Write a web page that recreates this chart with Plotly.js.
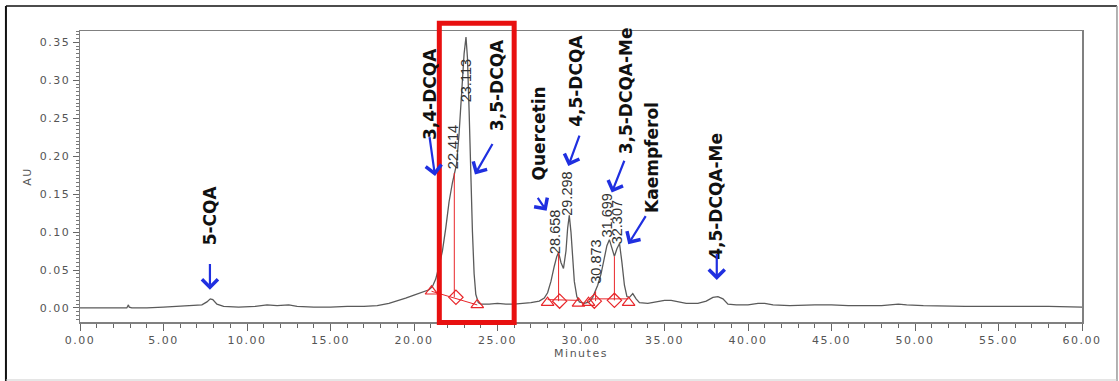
<!DOCTYPE html>
<html>
<head>
<meta charset="utf-8">
<script src="https://cdn.plot.ly/plotly-3.0.1.min.js"></script>
<style>
html,body{margin:0;padding:0;background:#fff;}
#chart{width:1119px;height:381px;}
.xtick text,.ytick text,.g-xtitle text,.g-ytitle text{letter-spacing:1.5px;}
</style>
</head>
<body>
<div id="chart"></div>
<script>
// ---- Chromatogram (minutes, AU) ----
const time = [0.0,1.0,2.0,2.8,2.9,2.95,3.1,4.0,5.0,6.0,6.8,7.3,7.6,7.8,7.95,8.2,8.6,9.5,10.5,11.2,11.8,12.5,13.0,14.0,15.0,16.0,17.0,17.8,18.5,19.0,19.5,20.0,20.5,20.9,21.1,21.3,21.5,21.7,21.9,22.1,22.3,22.414,22.55,22.7,22.85,23.0,23.113,23.2,23.3,23.4,23.5,23.6,23.7,23.85,24.0,24.5,25.0,25.5,26.0,26.5,27.0,27.5,27.8,28.0,28.2,28.4,28.55,28.658,28.8,28.95,29.1,29.2,29.298,29.4,29.5,29.6,29.75,29.9,30.2,30.5,30.7,30.873,31.0,31.2,31.4,31.55,31.699,31.85,32.0,32.15,32.307,32.45,32.6,32.75,32.9,33.1,33.3,33.5,34.0,34.5,35.0,35.4,35.8,36.3,37.0,37.5,37.9,38.2,38.5,38.8,39.3,40.0,40.6,41.0,41.5,42.5,44.0,45.0,46.0,48.0,49.0,49.5,50.5,53.0,56.0,58.0,60.0];
const absorbance = [0.000,0.000,0.000,0.000,0.004,0.001,0.000,0.000,0.001,0.002,0.003,0.004,0.008,0.012,0.011,0.005,0.002,0.001,0.002,0.004,0.003,0.004,0.002,0.001,0.001,0.002,0.002,0.003,0.006,0.009,0.013,0.017,0.021,0.024,0.028,0.038,0.055,0.075,0.105,0.140,0.165,0.178,0.190,0.230,0.290,0.335,0.357,0.330,0.260,0.175,0.100,0.045,0.018,0.007,0.005,0.005,0.006,0.005,0.005,0.006,0.007,0.009,0.013,0.020,0.035,0.055,0.068,0.073,0.060,0.052,0.075,0.105,0.122,0.100,0.065,0.035,0.015,0.008,0.006,0.008,0.014,0.022,0.030,0.045,0.065,0.082,0.090,0.078,0.068,0.078,0.085,0.060,0.030,0.015,0.014,0.019,0.012,0.007,0.006,0.008,0.010,0.010,0.008,0.006,0.006,0.009,0.014,0.015,0.012,0.005,0.004,0.004,0.006,0.006,0.004,0.003,0.004,0.004,0.003,0.003,0.005,0.004,0.003,0.002,0.002,0.002,0.001];

// ---- Integration marks ----
const startEndT = [21.05, 23.79, 28.0, 29.85, 30.45, 32.85];
const startEndV = [0.022, 0.004, 0.007, 0.006, 0.007, 0.007];
const valleyT = [22.51, 28.72, 30.8, 32.0];
const valleyV = [0.014, 0.009, 0.009, 0.010];
const dropT = [22.414, 28.658, 30.873, 32.0];
const dropTop = [0.178, 0.073, 0.022, 0.068];
const dropBottom = [0.014, 0.009, 0.009, 0.010];
const baseT = [[21.05, 23.79], [28.0, 28.72, 29.85], [30.45, 30.8, 32.0, 32.85]];
const baseV = [[0.022, 0.004], [0.011, 0.011, 0.010], [0.011, 0.012, 0.012, 0.012]];

// ---- Retention-time labels ----
const rtLabels = ['22.414', '23.113', '28.658', '29.298', '30.873', '31.699', '32.307'];

// ---- Compound labels ----
const compounds = ['5-CQA', '3,4-DCQA', '3,5-DCQA', 'Quercetin', '4,5-DCQA', '3,5-DCQA-Me', 'Kaempferol', '4,5-DCQA-Me'];

// ---- Tick labels ----
const xTickVals = [0,5,10,15,20,25,30,35,40,45,50,55,60];
const yTickVals = [0,0.05,0.10,0.15,0.20,0.25,0.30,0.35];

// ---- placement (data units) ----
const rtPos = [[22.34,0.212],[23.11,0.300],[28.44,0.100],[29.14,0.150],[30.90,0.061],[31.56,0.122],[32.16,0.113]];
const compPos = [[7.78,0.122],[20.96,0.282],[24.94,0.293],[27.49,0.230],[29.73,0.300],[32.72,0.286],[34.25,0.199],[38.11,0.147]];
// arrows: [headX, headY, tailX, tailY]
const arrowPos = [[7.78,0.024,7.78,0.060],[21.26,0.174,20.92,0.227],[23.65,0.176,24.75,0.218],[27.94,0.128,27.35,0.147],[29.24,0.187,29.94,0.229],[31.84,0.152,32.63,0.196],[32.83,0.084,33.93,0.123],[38.13,0.037,38.13,0.073]];

const red = '#e8262a';
const traces = [{
  x: time, y: absorbance, type: 'scatter', mode: 'lines',
  line: {color: '#5a5a5a', width: 1.3}, hoverinfo: 'skip'
}];
baseT.forEach((bt, i) => traces.push({
  x: bt, y: baseV[i], type: 'scatter', mode: 'lines',
  line: {color: red, width: 1}, hoverinfo: 'skip'
}));
dropT.forEach((t, i) => traces.push({
  x: [t, t], y: [dropTop[i], dropBottom[i]], type: 'scatter', mode: 'lines',
  line: {color: red, width: 1}, hoverinfo: 'skip'
}));
traces.push({x: startEndT, y: startEndV, type: 'scatter', mode: 'markers',
  marker: {symbol: 'triangle-up-open', size: 11, color: red, line: {width: 1.2}}, hoverinfo: 'skip'});
traces.push({x: valleyT, y: valleyV, type: 'scatter', mode: 'markers',
  marker: {symbol: 'diamond-open', size: 11, color: red, line: {width: 1.2}}, hoverinfo: 'skip'});

const annotations = [];
rtLabels.forEach((s, i) => annotations.push({
  x: rtPos[i][0], y: rtPos[i][1], xref: 'x', yref: 'y', text: s, showarrow: false,
  textangle: -90, xanchor: 'center', yanchor: 'middle',
  font: {family: 'Liberation Sans Narrow, Liberation Sans, Arial', size: 14.5, color: '#333'}
}));
compounds.forEach((s, i) => annotations.push({
  x: compPos[i][0], y: compPos[i][1], xref: 'x', yref: 'y', text: '<b>' + s + '</b>', showarrow: false,
  textangle: -90, xanchor: 'center', yanchor: 'middle',
  font: {family: 'DejaVu Sans', size: 17, color: '#111'}
}));
arrowPos.forEach(a => annotations.push({
  x: a[0], y: a[1], ax: a[2], ay: a[3], xref: 'x', yref: 'y', axref: 'x', ayref: 'y',
  text: '', showarrow: true, arrowhead: 4, arrowsize: 1.4, arrowwidth: 2.2, arrowcolor: '#1f2fe0',
  standoff: 0, startstandoff: 0
}));

const shapes = [
  // outer frame
  {type: 'line', xref: 'paper', yref: 'paper', x0: -0.0739, x1: 1.0349, y0: 1.0859, y1: 1.0859, line: {color: '#111', width: 1.5}},
  {type: 'line', xref: 'paper', yref: 'paper', x0: -0.0739, x1: -0.0739, y0: 1.0859, y1: -0.205, line: {color: '#111', width: 2}},
  {type: 'line', xref: 'paper', yref: 'paper', x0: 1.0349, x1: 1.0349, y0: 1.0859, y1: -0.205, line: {color: '#999', width: 1.5}},
  {type: 'line', xref: 'paper', yref: 'paper', x0: -0.0739, x1: 1.0349, y0: -0.1993, y1: -0.1993, line: {color: '#ccc', width: 1}},
  // red highlight box
  {type: 'rect', xref: 'paper', yref: 'paper', x0: 0.3586, x1: 0.4333, y0: -0.0017, y1: 1.0265, layer: 'above',
   line: {color: '#e81010', width: 5}, fillcolor: 'rgba(0,0,0,0)'}
];

const tickFont = {family: 'DejaVu Sans', size: 11, color: '#555'};
const layout = {
  width: 1119, height: 381,
  margin: {l: 80, r: 37, t: 31, b: 59},
  paper_bgcolor: '#fff', plot_bgcolor: '#fff',
  showlegend: false,
  xaxis: {
    range: [0, 60], tickvals: xTickVals, tickformat: '.2f',
    ticks: 'outside', ticklen: 7, tickwidth: 1, tickcolor: '#666',
    showline: true, linecolor: '#808080', linewidth: 1.5, mirror: true,
    showgrid: false, zeroline: false, tickfont: tickFont,
    minor: {dtick: 1, tick0: 0, ticks: 'outside', ticklen: 4, tickcolor: '#666', tickwidth: 1, showgrid: false},
    title: {text: 'Minutes', font: {family: 'DejaVu Sans', size: 11, color: '#555'}, standoff: 3}
  },
  yaxis: {
    range: [-0.0185, 0.365], tickvals: yTickVals, tickformat: '.2f',
    ticks: 'outside', ticklen: 6, tickwidth: 1, tickcolor: '#666',
    showline: true, linecolor: '#808080', linewidth: 1.5, mirror: true,
    showgrid: false, zeroline: false, tickfont: tickFont,
    minor: {dtick: 0.005, tick0: 0, ticks: 'outside', ticklen: 3, tickcolor: '#777', tickwidth: 1, showgrid: false},
    title: {text: 'AU', font: {family: 'DejaVu Sans', size: 11, color: '#555'}, standoff: 6}
  },
  annotations: annotations,
  shapes: shapes
};
Plotly.newPlot('chart', traces, layout, {staticPlot: true, displayModeBar: false});
</script>
</body>
</html>
